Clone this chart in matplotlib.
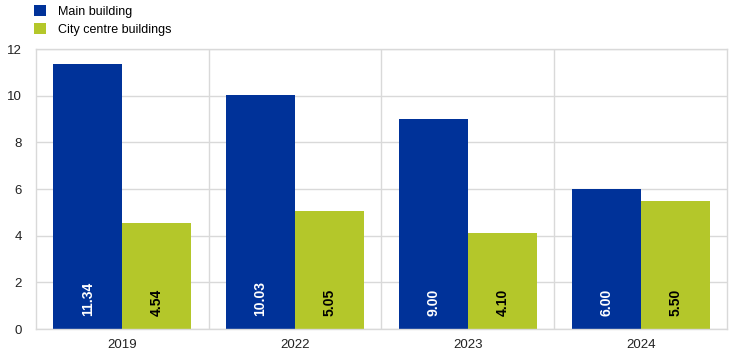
import matplotlib
matplotlib.use("Agg")
import matplotlib.pyplot as plt
import numpy as np

plt.rcParams['font.family'] = ['Liberation Sans', 'DejaVu Sans']

years = ["2019", "2022", "2023", "2024"]
main_building = [11.34, 10.03, 9.00, 6.00]
city_centre = [4.54, 5.05, 4.10, 5.50]

blue = "#003299"
green = "#b4c72a"
grid = "#d9d9d9"

fig = plt.figure(figsize=(7.44, 3.56), dpi=100)
ax = fig.add_axes([36/744, 1-329/356, (727-36)/744, (329-49)/356])

x = np.arange(len(years))
w = 0.4
b1 = ax.bar(x - w/2, main_building, w, color=blue, label="Main building", zorder=2)
b2 = ax.bar(x + w/2, city_centre, w, color=green, label="City centre buildings", zorder=2)

# value labels, rotated, sitting near the bottom of each bar
for xi, v in zip(x, main_building):
    ax.annotate("%.2f" % v, xy=(xi - w/2, 0), xytext=(0, 9), textcoords="offset points",
                ha="center", va="bottom", rotation=90, color="white",
                fontsize=10, fontweight="bold", zorder=3)
for xi, v in zip(x, city_centre):
    ax.annotate("%.2f" % v, xy=(xi + w/2, 0), xytext=(0, 9), textcoords="offset points",
                ha="center", va="bottom", rotation=90, color="black",
                fontsize=10, fontweight="bold", zorder=3)

ax.set_xlim(-0.5, len(years) - 0.5)
ax.set_ylim(0, 12)
ax.set_yticks(range(0, 13, 2))
ax.set_xticks(x)
ax.set_xticklabels(years)
ax.tick_params(length=0, labelsize=9.5, colors="#222222")
ax.tick_params(axis="y", pad=10)
ax.tick_params(axis="x", pad=7)

ax.grid(axis="y", color=grid, linewidth=1, zorder=0)
for b in np.arange(0.5, len(years) - 0.5):
    ax.axvline(b, color=grid, linewidth=1, zorder=0)
for s in ax.spines.values():
    s.set_color(grid)
    s.set_linewidth(1)

fig.legend(handles=[b1, b2], loc="upper left", bbox_to_anchor=(29/744, 1.0),
           frameon=False, fontsize=9, handlelength=0.95, handleheight=0.95,
           handletextpad=0.95, labelspacing=0.45, borderaxespad=0)

fig.savefig("out.png", dpi=100)
